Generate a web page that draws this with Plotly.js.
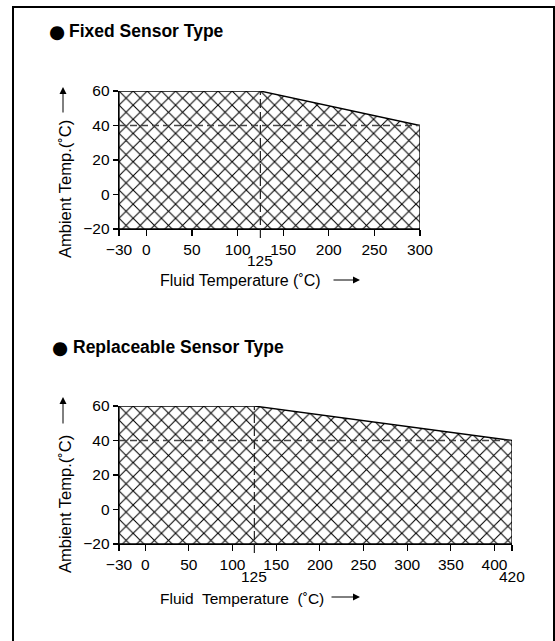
<!DOCTYPE html>
<html>
<head>
<meta charset="utf-8">
<script src="https://cdn.plot.ly/plotly-3.0.1.min.js"></script>
<style>
  html, body { margin: 0; padding: 0; background: #fff; }
  #chart { width: 555px; height: 641px; }
</style>
</head>
<body>
<div id="chart"></div>
<script>
// ---- Data ----
const fixedTemp = [-30, -30, 125, 300, 300, -30];
const fixedAmb  = [-20, 60, 60, 40, -20, -20];
const replTemp  = [-30, -30, 125, 420, 420, -30];
const replAmb   = [-20, 60, 60, 40, -20, -20];

const fixedTicks    = [-30, 0, 50, 100, 150, 200, 250, 300];
const fixedTickText = ['\u221230', '0', '50', '100', '150', '200', '250', '300'];
const replTicks     = [-30, 0, 50, 100, 150, 200, 250, 300, 350, 400, 420];
const replTickText  = ['\u221230', '0', '50', '100', '150', '200', '250', '300', '350', '400', ''];
const yTicks        = [-20, 0, 20, 40, 60];
const yTickText     = ['\u221220', '0', '20', '40', '60'];
const fixedLowTicks = [125];
const replLowTicks  = [125, 420];

const breakTemp = 125;
const refAmb = 40;
const fixedMax = 300;
const replMax = 420;

const bullet = '\u25CF';
const titles = ['Fixed Sensor Type', 'Replaceable Sensor Type'];
const xTitles = ['Fluid Temperature (\u02DAC)', 'Fluid\u00A0 Temperature\u00A0 (\u02DAC)'];
const yTitle = 'Ambient Temp.(\u02DAC)';

// ---- Styling helpers ----
const W = 555, H = 641;
const px = v => v / W;
const py = v => (H - v) / H;
const FONT = 'Liberation Sans, Arial, Helvetica, sans-serif';

function areaTrace(x, y, xa, ya) {
  return {
    type: 'scatter', mode: 'lines', x: x, y: y, xaxis: xa, yaxis: ya,
    fill: 'toself', fillcolor: 'white',
    fillpattern: { shape: 'x', size: 10, solidity: 0.2, fgcolor: 'black', bgcolor: 'white' },
    line: { color: 'black', width: 1.3 },
    hoverinfo: 'skip', showlegend: false
  };
}

function xAxis(domain, maxV, tv, tt, anchor) {
  return {
    domain: domain, range: [-30, maxV], anchor: anchor,
    tickmode: 'array', tickvals: tv, ticktext: tt,
    ticks: 'outside', ticklen: 6, tickwidth: 1.2, tickcolor: 'black',
    showline: true, linecolor: 'black', linewidth: 1.3,
    showgrid: false, zeroline: false, fixedrange: true,
    tickfont: { family: FONT, size: 15.5, color: 'black' }
  };
}
function yAxis(domain, anchor) {
  return {
    domain: domain, range: [-20, 60], anchor: anchor,
    tickmode: 'array', tickvals: yTicks, ticktext: yTickText,
    ticks: 'outside', ticklen: 5, tickwidth: 1.2, tickcolor: 'black',
    showline: true, linecolor: 'black', linewidth: 1.3,
    showgrid: false, zeroline: false, fixedrange: true,
    tickfont: { family: FONT, size: 15.5, color: 'black' }
  };
}

const data = [
  areaTrace(fixedTemp, fixedAmb, 'x', 'y'),
  areaTrace(replTemp, replAmb, 'x2', 'y2')
];

const shapes = [
  // outer frame
  { type: 'rect', xref: 'paper', yref: 'paper', x0: px(13), x1: px(554), y0: py(7), y1: -0.02,
    line: { color: 'black', width: 2 }, fillcolor: 'rgba(0,0,0,0)' },
  // dashed guides chart 1
  { type: 'line', xref: 'x', yref: 'y', x0: -30, x1: fixedMax, y0: refAmb, y1: refAmb,
    line: { color: '#444', width: 1.3, dash: '7px,4px' } },
  { type: 'line', xref: 'x', yref: 'y domain', x0: breakTemp, x1: breakTemp, y0: -0.065, y1: 1,
    line: { color: '#222', width: 1.2, dash: '9px,4px' } },
  // dashed guides chart 2
  { type: 'line', xref: 'x2', yref: 'y2', x0: -30, x1: replMax, y0: refAmb, y1: refAmb,
    line: { color: '#444', width: 1.3, dash: '7px,4px' } },
  { type: 'line', xref: 'x2', yref: 'y2 domain', x0: breakTemp, x1: breakTemp, y0: -0.065, y1: 1,
    line: { color: '#222', width: 1.2, dash: '9px,4px' } }
];

const annotations = [];
const txt = (text, x, y, opts) => Object.assign({
  text: text, x: x, y: y, xref: 'paper', yref: 'paper', showarrow: false,
  xanchor: 'left', yanchor: 'middle',
  font: { family: FONT, size: 16, color: 'black' }
}, opts || {});
const arrow = (tx, ty, ax, ay) => ({
  text: '', x: px(tx), y: py(ty), xref: 'paper', yref: 'paper', showarrow: true,
  ax: ax, ay: ay, axref: 'pixel', ayref: 'pixel',
  arrowhead: 2, arrowsize: 1.4, arrowwidth: 1, arrowcolor: 'black', standoff: 0, startstandoff: 0
});

// headers
const headFont = { family: FONT, size: 17.5, color: 'black' };
const bulletFont = { family: 'DejaVu Sans', size: 18.5, color: 'black' };
annotations.push(txt(bullet, px(57), py(31), { xanchor: 'center', font: bulletFont }));
annotations.push(txt('<b>' + titles[0] + '</b>', px(67), py(31), { font: headFont }));
annotations.push(txt(bullet, px(60), py(347), { xanchor: 'center', font: bulletFont }));
annotations.push(txt('<b>' + titles[1] + '</b>', px(71), py(347), { font: headFont }));
// x titles
annotations.push(txt(xTitles[0], px(158), py(280)));
annotations.push(arrow(360, 280, -28, 0));
annotations.push(txt(xTitles[1], px(158), py(598), { font: { family: FONT, size: 15.5, color: 'black' } }));
annotations.push(arrow(360, 597, -30, 0));
// y titles
annotations.push(txt(yTitle, px(65), py(189), { xanchor: 'center', textangle: -90, font: { family: FONT, size: 16.5, color: 'black' } }));
annotations.push(arrow(63, 87, 0, 27));
annotations.push(txt(yTitle, px(65), py(504), { xanchor: 'center', textangle: -90, font: { family: FONT, size: 16.5, color: 'black' } }));
annotations.push(arrow(63, 397, 0, 28));
// lower-row tick labels
fixedLowTicks.forEach(v => annotations.push({
  text: String(v), x: v, y: -0.225, xref: 'x', yref: 'y domain', showarrow: false,
  xanchor: 'center', yanchor: 'middle', font: { family: FONT, size: 15.5, color: 'black' }
}));
replLowTicks.forEach(v => annotations.push({
  text: String(v), x: v, y: -0.235, xref: 'x2', yref: 'y2 domain', showarrow: false,
  xanchor: 'center', yanchor: 'middle', font: { family: FONT, size: 15.5, color: 'black' }
}));

const layout = {
  width: W, height: H,
  margin: { l: 0, r: 0, t: 0, b: 0 },
  paper_bgcolor: 'white', plot_bgcolor: 'white',
  showlegend: false,
  xaxis: xAxis([px(119), px(420)], fixedMax, fixedTicks, fixedTickText, 'y'),
  yaxis: yAxis([py(229), py(91)], 'x'),
  xaxis2: xAxis([px(119), px(512)], replMax, replTicks, replTickText, 'y2'),
  yaxis2: yAxis([py(544), py(406)], 'x2'),
  shapes: shapes,
  annotations: annotations
};

Plotly.newPlot('chart', data, layout, { displayModeBar: false, staticPlot: true });
</script>
</body>
</html>
